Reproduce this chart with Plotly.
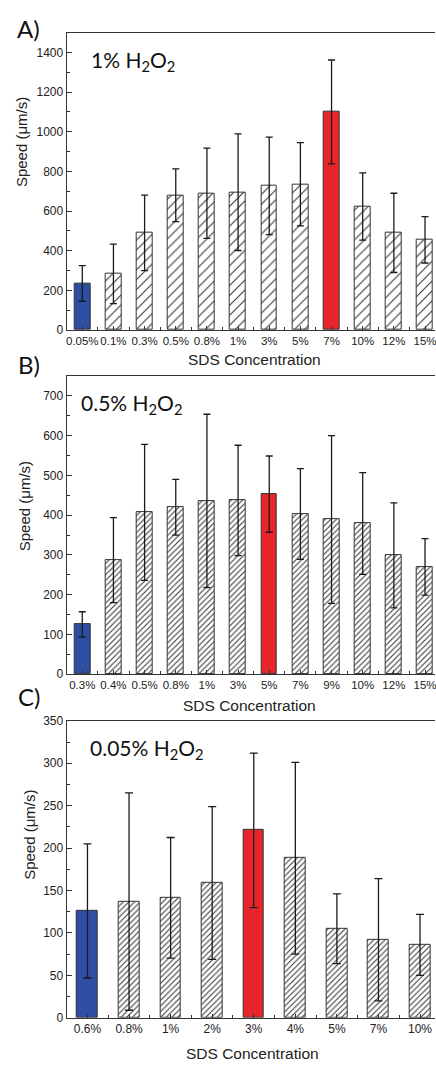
import plotly.graph_objects as go

W, H = 436, 1068

# ---------------- data ----------------
cats_a = ["0.05%", "0.1%", "0.3%", "0.5%", "0.8%", "1%", "3%", "5%", "7%", "10%", "12%", "15%"]
speed_a = [235, 283, 490, 680, 690, 695, 727, 735, 1100, 623, 490, 455]
err_a = [90, 150, 190, 133, 228, 294, 246, 210, 262, 170, 200, 117]

cats_b = ["0.3%", "0.4%", "0.5%", "0.8%", "1%", "3%", "5%", "7%", "9%", "10%", "12%", "15%"]
speed_b = [125, 287, 407, 420, 436, 437, 453, 403, 389, 379, 299, 270]
err_b = [32, 107, 171, 70, 218, 139, 96, 114, 211, 128, 132, 71]

cats_c = ["0.6%", "0.8%", "1%", "2%", "3%", "4%", "5%", "7%", "10%"]
speed_c = [126, 137, 141.5, 159, 221, 188, 105, 92, 86]
err_c = [79, 128, 71, 90, 91, 113, 41, 72, 36]

# index of the lowest-concentration (blue) and optimum (red) bar
blue_a, red_a = 0, 8
blue_b, red_b = 0, 6
blue_c, red_c = 0, 4

BLUE = "#2d4ea2"
RED = "#e8252b"
EDGE = "#333333"

def py(p):
    return 1 - p / H

def px(p):
    return p / W

panels = [
    dict(cats=cats_a, y=speed_a, e=err_a, blue=blue_a, red=red_a,
         dom=(py(327.3), py(26)), yr=[0, 1500], dt=200, mdt=100,
         xr=[-0.5, 11.32], bw=0.51, hs=7, sol=0.15, cap=3.5,
         label="1% H<sub>2</sub>O<sub>2</sub>", lab_xy=(88, 55), tf=11.5),
    dict(cats=cats_b, y=speed_b, e=err_b, blue=blue_b, red=red_b,
         dom=(py(676), py(374)), yr=[0, 750], dt=100, mdt=50,
         xr=[-0.5, 11.32], bw=0.51, hs=4, sol=0.25, cap=3.5,
         label="0.5% H<sub>2</sub>O<sub>2</sub>", lab_xy=(78, 402), tf=11.5),
    dict(cats=cats_c, y=speed_c, e=err_c, blue=blue_c, red=red_c,
         dom=(py(1024.3), py(723.3)), yr=[0, 350], dt=50, mdt=25,
         xr=[-0.5, 8.36], bw=0.5, hs=4, sol=0.25, cap=4,
         label="0.05% H<sub>2</sub>O<sub>2</sub>", lab_xy=(87, 752), tf=12),
]

fig = go.Figure()
annotations = []
TICKFONT = "Liberation Sans, Arial, sans-serif"
LABFONT = "Lato, Open Sans, sans-serif"

for i, p in enumerate(panels, start=1):
    n = len(p["cats"])
    xs = list(range(n))
    special = {p["blue"]: BLUE, p["red"]: RED}
    # hatched bars
    hy = [None if k in special else p["y"][k] for k in xs]
    he = [0 if k in special else p["e"][k] for k in xs]
    fig.add_trace(go.Bar(
        x=xs, y=hy, width=p["bw"],
        marker=dict(color="white", line=dict(color=EDGE, width=1),
                    pattern=dict(shape="/", fgcolor="#333333", fgopacity=1,
                                 size=p["hs"], solidity=p["sol"], fillmode="overlay")),
        error_y=dict(type="data", array=he, visible=True, color="#1a1a1a",
                     thickness=1.3, width=p["cap"]),
        xaxis=f"x{i}", yaxis=f"y{i}", showlegend=False,
    ))
    # solid coloured bars
    sy = [p["y"][k] if k in special else None for k in xs]
    se = [p["e"][k] if k in special else 0 for k in xs]
    sc = [special.get(k, "white") for k in xs]
    fig.add_trace(go.Bar(
        x=xs, y=sy, width=p["bw"],
        marker=dict(color=sc, line=dict(color=EDGE, width=1)),
        error_y=dict(type="data", array=se, visible=True, color="#1a1a1a",
                     thickness=1.3, width=p["cap"]),
        xaxis=f"x{i}", yaxis=f"y{i}", showlegend=False,
    ))
    xa = dict(domain=[px(66), 1.0], range=p["xr"], anchor=f"y{i}",
              tickmode="array", tickvals=xs, ticktext=p["cats"], tickangle=0,
              ticklabeloverflow="allow",
              ticks="inside", ticklen=4, tickwidth=1, tickcolor=EDGE,
              minor=dict(tickmode="linear", tick0=0.5, dtick=1, ticks="inside",
                         ticklen=3, tickwidth=1, tickcolor=EDGE),
              showline=True, linecolor=EDGE, linewidth=1.2, mirror=True,
              showgrid=False, zeroline=False,
              tickfont=dict(family=TICKFONT, size=p["tf"], color="#222"))
    ya = dict(domain=list(p["dom"]), range=p["yr"], anchor=f"x{i}",
              dtick=p["dt"], tick0=0, ticks="inside", ticklen=5, tickwidth=1,
              tickcolor=EDGE,
              minor=dict(dtick=p["mdt"], ticks="inside", ticklen=3, tickwidth=1,
                         tickcolor=EDGE),
              showline=True, linecolor=EDGE, linewidth=1.2, mirror=False,
              showgrid=False, zeroline=False,
              tickfont=dict(family=TICKFONT, size=12, color="#222"))
    fig.update_layout(**{f"xaxis{i}": xa, f"yaxis{i}": ya})
    annotations.append(dict(text=p["label"], x=px(p["lab_xy"][0]), y=py(p["lab_xy"][1]),
                            xref="paper", yref="paper", xanchor="left", yanchor="middle",
                            showarrow=False, font=dict(family=LABFONT, size=21, color="#111")))

# panel letters
for t, (x, y) in zip(["A)", "B)", "C)"], [(14, 22), (15, 362), (15, 699)]):
    annotations.append(dict(text=t, x=px(x), y=py(y), xref="paper", yref="paper",
                            xanchor="left", yanchor="middle", showarrow=False,
                            font=dict(family=LABFONT, size=24, color="#111")))

# axis titles
for (x, y) in [(255, 357), (250, 708), (253, 1060)]:
    annotations.append(dict(text="SDS Concentration", x=px(x), y=py(y), xref="paper",
                            yref="paper", xanchor="center", yanchor="middle",
                            showarrow=False,
                            font=dict(family=TICKFONT, size=15.5, color="#222")))
for (x, y) in [(20, 137), (23, 506), (28, 839)]:
    annotations.append(dict(text="Speed (μm/s)", x=px(x), y=py(y), xref="paper",
                            yref="paper", xanchor="center", yanchor="middle",
                            textangle=-90, showarrow=False,
                            font=dict(family=TICKFONT, size=15, color="#222")))

fig.update_layout(width=W, height=H, margin=dict(l=0, r=0, t=0, b=0),
                  paper_bgcolor="white", plot_bgcolor="white", barmode="overlay",
                  annotations=annotations, bargap=0)

fig.write_html("out.html", config={"displayModeBar": False},
               post_script="document.body.style.margin='0';document.body.style.overflow='hidden';")
